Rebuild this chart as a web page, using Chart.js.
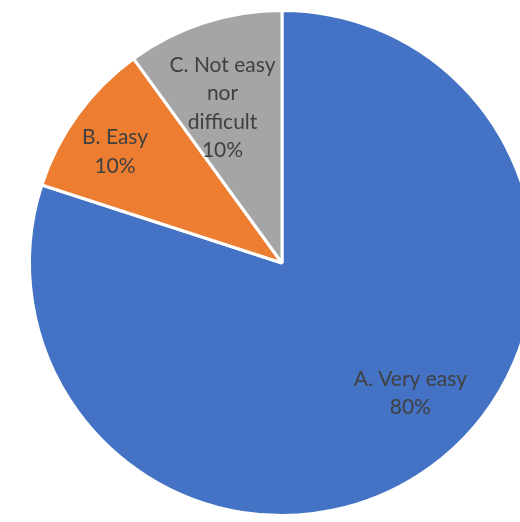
<!DOCTYPE html>
<html>
<head>
<meta charset="utf-8">
<script src="https://cdn.jsdelivr.net/npm/chart.js@4.4.0/dist/chart.umd.min.js"></script>
<style>
  html, body { margin: 0; padding: 0; background: #fff; overflow: hidden; }
  #wrap { position: absolute; left: 0; top: 0; width: 564px; height: 526px; }
</style>
</head>
<body>
<div id="wrap"><canvas id="pie"></canvas></div>
<script>
// data
const categories = ['A. Very easy', 'B. Easy', 'C. Not easy nor difficult'];
const labelLines = [['A. Very easy'], ['B. Easy'], ['C. Not easy', 'nor', 'difficult']];
const values = [80, 10, 10];
const colors = ['#4472C4', '#ED7D31', '#A5A5A5'];

// label placement: fraction of radius and angle tweak (radians)
const labelPlace = [
    { r: 0.724, da: -0.15 },
    { r: 0.795, da: -0.04 },
    { r: 0.658, da: -0.052 }
];

const sliceLabels = {
    id: 'sliceLabels',
    afterDatasetsDraw(chart) {
        const ctx = chart.ctx;
        const meta = chart.getDatasetMeta(0);
        ctx.save();
        ctx.font = '21px Lato, "Open Sans", sans-serif';
        ctx.fillStyle = '#404040';
        ctx.textAlign = 'center';
        ctx.textBaseline = 'middle';
        meta.data.forEach((arc, i) => {
            const p = arc.getProps(['x', 'y', 'startAngle', 'endAngle', 'outerRadius']);
            const mid = (p.startAngle + p.endAngle) / 2 + labelPlace[i].da;
            const r = p.outerRadius * labelPlace[i].r;
            const cx = p.x + Math.cos(mid) * r;
            const cy = p.y + Math.sin(mid) * r;
            const lines = labelLines[i].concat([values[i] + '%']);
            const lh = 28.5;
            lines.forEach((t, j) => {
                ctx.fillText(t, cx, cy + (j - (lines.length - 1) / 2) * lh);
            });
        });
        ctx.restore();
    }
};

new Chart(document.getElementById('pie'), {
    type: 'pie',
    data: {
        labels: categories,
        datasets: [{
            data: values,
            backgroundColor: colors,
            borderColor: '#ffffff',
            borderWidth: 3
        }]
    },
    options: {
        responsive: true,
        maintainAspectRatio: false,
        animation: false,
        layout: { padding: 9 },
        plugins: {
            legend: { display: false },
            tooltip: { enabled: false }
        }
    },
    plugins: [sliceLabels]
});
</script>
</body>
</html>
